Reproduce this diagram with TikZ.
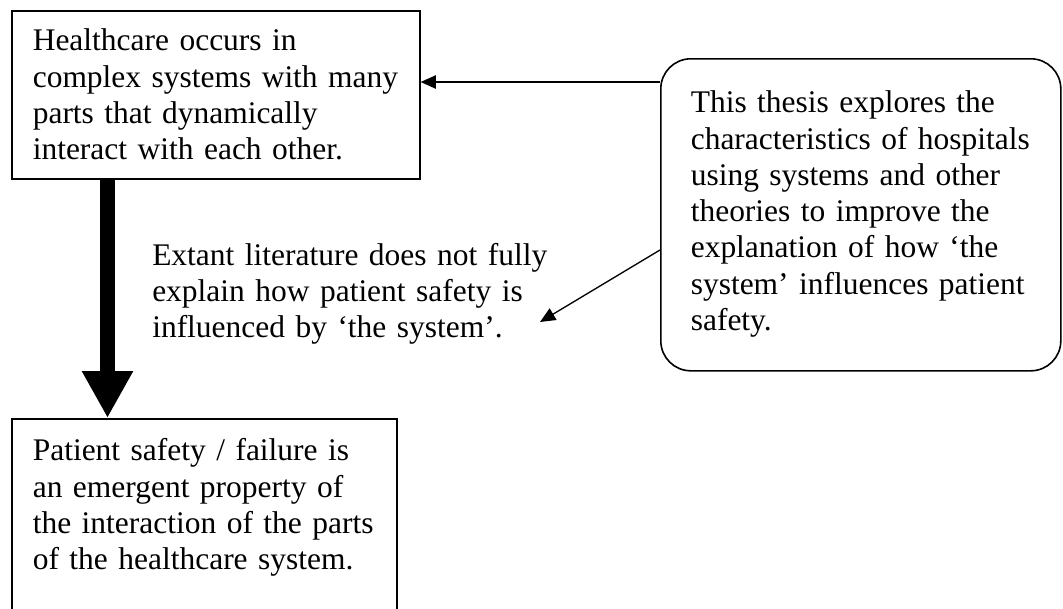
\documentclass[tikz,border=0pt]{standalone}
\usepackage{fontspec}
\setmainfont{Liberation Serif}
\usetikzlibrary{arrows.meta,calc}
\begin{document}
\begin{tikzpicture}[x=0.75pt,y=-0.75pt,
  every node/.style={font=\fontsize{23.6pt}{27.2pt}\selectfont},
  textbox/.style={draw, line width=1.2pt, anchor=north west, inner ysep=0pt, align=left},
  pointer/.style={line width=1pt, -{Triangle[length=11.5pt,width=10pt]}},
  bigarrow/.style={line width=11.25pt, -{Triangle[length=35.25pt,width=36pt]}}
]
\clip (0,0) rectangle (1063,608);

% statement boxes
\node[textbox, inner xsep=15.75pt, text width=274.5pt, text height=30pt, text depth=96pt]
  (tbox) at (11,10)
  {\mbox{Healthcare occurs in}\\\mbox{complex systems with many}\\\mbox{parts that dynamically}\\\mbox{interact with each other.}};

\node[textbox, rounded corners=22.5pt, inner xsep=22.5pt, text width=255pt, text height=40.5pt, text depth=193.5pt]
  (rbox) at (660,58)
  {\mbox{This thesis explores the}\\\mbox{characteristics of hospitals}\\\mbox{using systems and other}\\\mbox{theories to improve the}\\\mbox{explanation of how ‘the}\\\mbox{system’ influences patient}\\\mbox{safety.}};

\node[textbox, inner xsep=15.75pt, text width=257.25pt, text height=31.5pt, text depth=172.5pt]
  (bbox) at (11,418)
  {\mbox{Patient safety / failure is}\\\mbox{an emergent property of}\\\mbox{the interaction of the parts}\\\mbox{of the healthcare system.}};

% gap statement
\node[anchor=base west, inner sep=0pt, text width=315pt, align=left] (gap) at (152,265)
  {\mbox{Extant literature does not fully}\\\mbox{explain how patient safety is}\\\mbox{influenced by ‘the system’.}};

% connectors
\coordinate (gaptip) at (540,322);
\draw[bigarrow] ($(tbox.south west)+(96.5,0)$) -- ($(bbox.north west)+(96.5,0)$);
\draw[pointer] ($(rbox.north west)+(0,24)$) -- ($(tbox.north east)+(0,72)$);
\draw[pointer] ($(rbox.north west)+(0,192)$) -- (gaptip);
\end{tikzpicture}
\end{document}
